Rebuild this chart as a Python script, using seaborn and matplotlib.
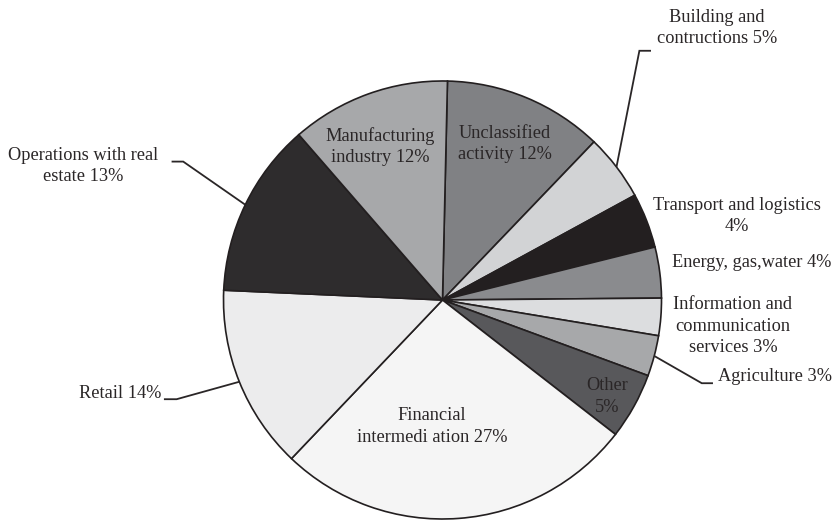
import numpy as np
import matplotlib
matplotlib.use("Agg")
import matplotlib.pyplot as plt
import seaborn as sns

# ---- data (clockwise from the top) ----
sectors = ["Unclassified activity", "Building and contructions", "Transport and logistics",
           "Energy, gas,water", "Information and communication services", "Agriculture",
           "Other", "Financial intermediation", "Retail", "Operations with real estate",
           "Manufacturing industry"]
shares = [11.8, 4.9, 4.05, 3.75, 2.75, 3.0, 4.9, 26.6, 13.6, 12.9, 11.75]
label_texts = ["Unclassified\nactivity 12%", "Building and\ncontructions 5%",
               "Transport and logistics\n4%", "Energy, gas,water 4%",
               "Information and\ncommunication\nservices 3%", "Agriculture 3%",
               "Other\n5%", "Financial\nintermedi ation 27%", "Retail 14%",
               "Operations with real\nestate 13%", "Manufacturing\nindustry 12%"]
colors = ["#808184", "#d2d3d5", "#231f20", "#8a8b8e", "#dcdddf", "#a7a8aa",
          "#58585b", "#f5f5f5", "#ececed", "#2e2c2d", "#a7a8aa"]

sns.set_theme(style="white")
plt.rcParams["font.family"] = ["Liberation Serif", "DejaVu Serif"]

fig = plt.figure(figsize=(8.34, 5.2), dpi=100)
ax = fig.add_axes([0, 0, 1, 1])

wedges, _ = ax.pie(shares, colors=colors, startangle=88.7, counterclock=False,
                   radius=1.0, wedgeprops=dict(edgecolor="#231f20", linewidth=1.2))

# axes limits so the pie sits where the reference has it
cx, cy, r = 442.5, 300.0, 219.0
ax.set_xlim((0 - cx) / r, (834 - cx) / r)
ax.set_ylim((cy - 520) / r, cy / r)
ax.set_aspect("auto")
ax.axis("off")

tc = "#2a2627"
fs = 13.2

def mid_edge(i):
    w = wedges[i]
    a = np.deg2rad((w.theta1 + w.theta2) / 2)
    return np.cos(a), np.sin(a)

# layout: (text pos, ha, elbow) ; None elbow -> no leader
layout = {
    0: ((0.285, 0.712), "center", None),
    1: ((1.252, 1.242), "center", ((0.899, 1.138), (0.952, 1.138))),
    2: ((1.345, 0.384), "center", None),
    3: ((1.412, 0.169), "center", None),
    4: ((1.326, -0.119), "center", None),
    5: ((1.258, -0.350), "left", ((1.184, -0.380), (1.235, -0.380))),
    6: ((0.750, -0.442), "center", None),
    7: ((-0.049, -0.579), "center", None),
    8: ((-1.284, -0.425), "right", ((-1.214, -0.453), (-1.272, -0.453))),
    9: ((-1.642, 0.612), "center", ((-1.184, 0.632), (-1.237, 0.632))),
    10: ((-0.285, 0.700), "center", None),
}

for i, txt in enumerate(label_texts):
    (tx, ty), ha, elbow = layout[i]
    ax.text(tx, ty, txt, ha=ha, va="center", fontsize=fs, color=tc,
            linespacing=1.36, multialignment="center")
    if elbow is not None:
        ex, ey = mid_edge(i)
        (x1, y1), (x2, y2) = elbow
        ax.plot([ex, x1, x2], [ey, y1, y2], color=tc, lw=1.3,
                solid_capstyle="butt", solid_joinstyle="miter")

fig.savefig("out.png", dpi=100, facecolor="white")
